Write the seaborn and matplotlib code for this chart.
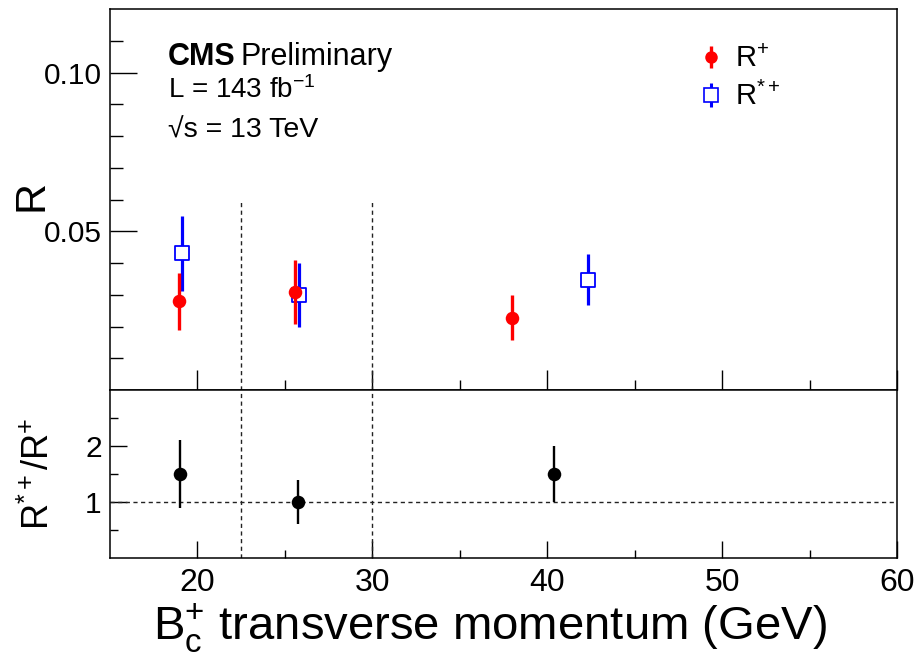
import numpy as np
import pandas as pd
import matplotlib
matplotlib.use("Agg")
import matplotlib.pyplot as plt
import seaborn as sns
from matplotlib.lines import Line2D
from matplotlib.legend_handler import HandlerTuple

# ---------------- data ----------------
rp_x = [18.93, 25.58, 38.0]
rp_y = [0.0279, 0.0308, 0.0228]
rp_err = [0.0089, 0.0100, 0.0070]

rs_x = [19.12, 25.81, 42.33]
rs_y = [0.0430, 0.0299, 0.0348]
rs_err = [0.0118, 0.0100, 0.0080]

ratio_x = [19.03, 25.74, 40.39]
ratio_y = [1.50, 1.00, 1.50]
ratio_err_lo = [0.60, 0.40, 0.50]
ratio_err_hi = [0.60, 0.40, 0.50]

bin_edges = [22.5, 30.0]
x_major = [20, 30, 40, 50, 60]
x_minor = [25, 35, 45, 55]
top_major = [0.05, 0.10]
top_major_labels = ["0.05", "0.10"]
top_minor = [0.01, 0.02, 0.03, 0.04, 0.06, 0.07, 0.08, 0.09, 0.11]
bot_major = [1, 2]
bot_minor = [0.5, 1.5, 2.5]

# ---------------- style ----------------
sns.set_style("ticks")
plt.rcParams["font.family"] = ["Liberation Sans", "DejaVu Sans"]
plt.rcParams["mathtext.fontset"] = "custom"
plt.rcParams["mathtext.rm"] = "Liberation Sans"
plt.rcParams["mathtext.it"] = "Liberation Sans:italic"
plt.rcParams["mathtext.bf"] = "Liberation Sans:bold"
plt.rcParams["mathtext.sf"] = "Liberation Sans"
for k in ["text.color", "axes.labelcolor", "xtick.color", "ytick.color", "axes.edgecolor"]:
    plt.rcParams[k] = "black"

RED = "#ff0000"
BLUE = "#0000ff"

fig = plt.figure(figsize=(9.18, 6.54), dpi=100)
W, H = 918, 654
L, R = 110, 897
ax1 = fig.add_axes([L / W, 1 - 390 / H, (R - L) / W, (390 - 9) / H])
ax2 = fig.add_axes([L / W, 1 - 558 / H, (R - L) / W, (558 - 390) / H], sharex=ax1)

df_p = pd.DataFrame({"x": rp_x, "y": rp_y, "e": rp_err})
df_s = pd.DataFrame({"x": rs_x, "y": rs_y, "e": rs_err})
df_r = pd.DataFrame({"x": ratio_x, "y": ratio_y, "lo": ratio_err_lo, "hi": ratio_err_hi})

DASH = (0, (3, 2.5))

# ---- top panel ----
for xe in bin_edges:
    ax1.plot([xe, xe], [0, 0.06], color="#222222", lw=1.0, ls=DASH, zorder=1)

ax1.errorbar(df_s["x"], df_s["y"], yerr=df_s["e"], fmt="none", ecolor=BLUE,
             elinewidth=2.3, capsize=0, zorder=2)
sns.scatterplot(data=df_s, x="x", y="y", ax=ax1, marker="s", s=100,
                color="white", edgecolor=BLUE, linewidth=1.3, zorder=3, legend=False)
ax1.errorbar(df_p["x"], df_p["y"], yerr=df_p["e"], fmt="none", ecolor=RED,
             elinewidth=2.4, capsize=0, zorder=4)
sns.scatterplot(data=df_p, x="x", y="y", ax=ax1, marker="o", s=95,
                color=RED, edgecolor=RED, linewidth=0, zorder=5, legend=False)

ax1.set_xlim(15, 60)
ax1.set_ylim(0, 0.12)
ax1.set_yticks(top_major)
ax1.set_yticklabels(top_major_labels)
ax1.set_yticks(top_minor, minor=True)
ax1.set_xticks(x_major)
ax1.set_xticks(x_minor, minor=True)
ax1.tick_params(axis="x", which="both", labelbottom=False)
ax1.tick_params(axis="both", which="both", direction="in", top=False, right=False,
                width=1.0, color="black")
ax1.tick_params(axis="y", which="major", length=19.5, labelsize=21.5, pad=6)
ax1.tick_params(axis="y", which="minor", length=9.6)
ax1.tick_params(axis="x", which="major", length=14.4)
ax1.tick_params(axis="x", which="minor", length=7.2)
ax1.set_xlabel("")
ax1.set_ylabel("R", fontsize=31)
ax1.yaxis.set_label_coords((52 - L) / (R - L), 0.51)

h_red = (Line2D([], [], color=RED, marker="|", ls="none", markersize=16.5, mew=2.4),
         Line2D([], [], color=RED, marker="o", ls="none", markersize=9.0, mew=0))
h_blue = (Line2D([], [], color=BLUE, marker="|", ls="none", markersize=17.5, mew=2.2),
          Line2D([], [], color=BLUE, marker="s", ls="none", markersize=9.5,
                 markerfacecolor="white", mew=1.2))
ax1.legend([h_red, h_blue], ["R$^{+}$", "R$^{*+}$"],
           handler_map={tuple: HandlerTuple(ndivide=1, pad=0)},
           loc="upper left", bbox_to_anchor=((696 - L) / (R - L), 0.905),
           frameon=False, fontsize=21, handlelength=1.0, handletextpad=0.32,
           borderpad=0, borderaxespad=0, labelspacing=0.3)

# CMS label
fig.text(168 / W, 1 - 65 / H, "CMS", fontsize=22, fontweight="bold", va="baseline", ha="left")
fig.text(241 / W, 1 - 65 / H, "Preliminary", fontsize=22, va="baseline", ha="left")
fig.text(168 / W, 1 - 98 / H, "L = 143 fb$^{-1}$", fontsize=20, va="baseline", ha="left")
fig.text(168 / W, 1 - 138 / H, "√s = 13 TeV", fontsize=20.5, va="baseline", ha="left")

# ---- bottom panel ----
for xe in bin_edges:
    ax2.plot([xe, xe], [0, 3], color="#222222", lw=1.0, ls=DASH, zorder=1)
ax2.plot([15, 60], [1, 1], color="#222222", lw=1.0, ls=DASH, zorder=1)

ax2.errorbar(df_r["x"], df_r["y"], yerr=[df_r["lo"], df_r["hi"]], fmt="none",
             ecolor="black", elinewidth=1.7, capsize=0, zorder=2)
sns.scatterplot(data=df_r, x="x", y="y", ax=ax2, marker="o", s=95,
                color="black", edgecolor="black", linewidth=0, zorder=3, legend=False)

ax2.set_xlim(15, 60)
ax2.set_ylim(0, 3)
ax2.set_yticks(bot_major)
ax2.set_yticks(bot_minor, minor=True)
ax2.set_xticks(x_major)
ax2.set_xticks(x_minor, minor=True)
ax2.tick_params(axis="both", which="both", direction="in", top=False, right=False,
                width=1.0, color="black")
ax2.tick_params(axis="y", which="major", length=12.5, labelsize=21.5, pad=6)
ax2.tick_params(axis="y", which="minor", length=6)
ax2.tick_params(axis="x", which="major", length=12, labelsize=23, pad=7)
ax2.tick_params(axis="x", which="minor", length=5.8)
ax2.set_ylabel("R$^{*+}$/R$^{+}$", fontsize=26)
ax2.yaxis.set_label_coords((57 - L) / (R - L), 0.5)
ax2.set_xlabel("")
fig.text(490 / W, 1 - 640 / H, r"B$_{\mathrm{c}}^{+}$ transverse momentum (GeV)",
         fontsize=34, ha="center", va="baseline")

for ax in (ax1, ax2):
    for sp in ax.spines.values():
        sp.set_visible(True)
        sp.set_linewidth(1.1)
        sp.set_color("black")

fig.savefig("out.png", dpi=100)
